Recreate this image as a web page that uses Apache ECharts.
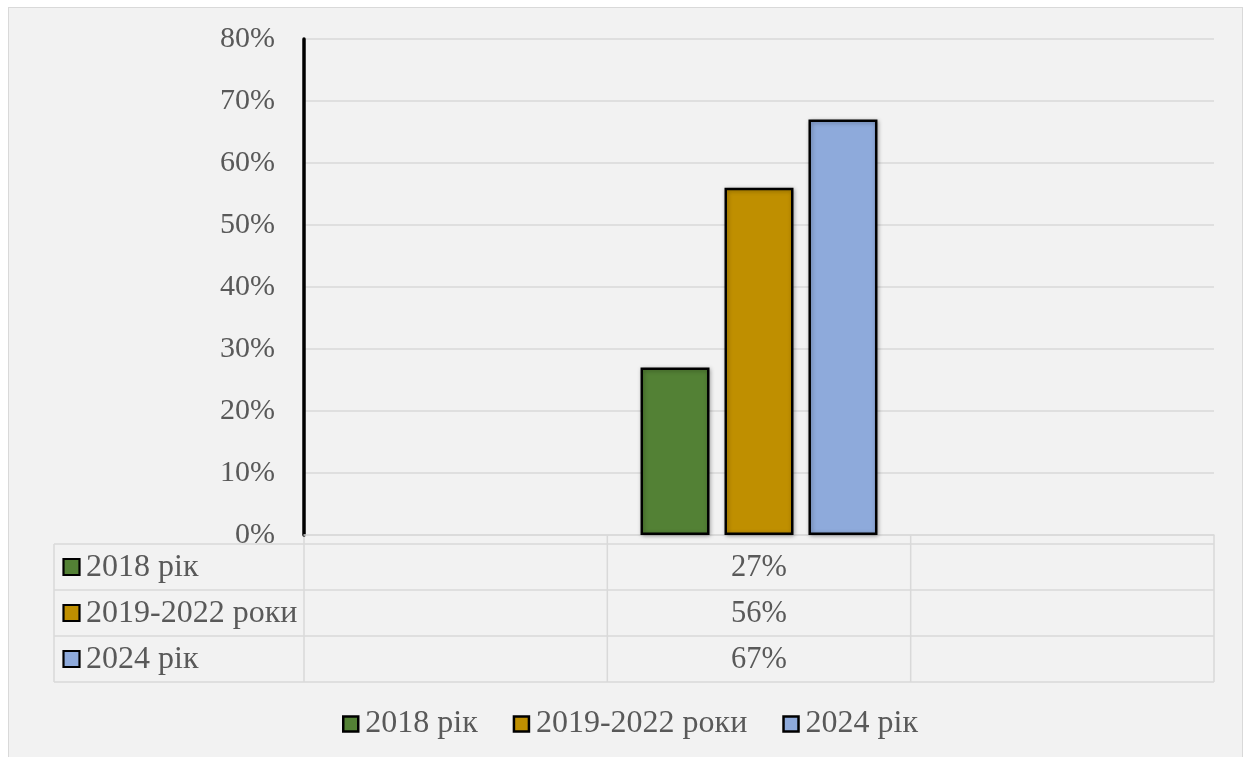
<!DOCTYPE html>
<html>
<head>
<meta charset="utf-8">
<script src="https://cdn.jsdelivr.net/npm/echarts@6/dist/echarts.min.js"></script>
<style>
html,body{margin:0;padding:0;background:#ffffff;}
#bg{position:absolute;left:8px;top:7px;width:1235px;height:760px;background:#f2f2f2;border:1.5px solid #d9d9d9;box-sizing:border-box;}
#chart{position:absolute;left:0;top:0;width:1248px;height:757px;}
</style>
</head>
<body>
<div id="bg"></div>
<div id="chart"></div>
<script>
// ---- data ----
const categories = ['', '', ''];
const seriesNames = ['2018 рік', '2019-2022 роки', '2024 рік'];
const values2018 = [null, 27, null];
const values2019_2022 = [null, 56, null];
const values2024 = [null, 67, null];
const yMin = 0, yMax = 80, yStep = 10;

const seriesValues = [values2018, values2019_2022, values2024];
const colors = ['#538135', '#bf8f00', '#8eaadb'];
const textColor = '#595959';
const lineColor = '#d9d9d9';
const serif = '"Liberation Serif", "DejaVu Serif", serif';

const chart = echarts.init(document.getElementById('chart'), null, {renderer: 'canvas'});

const option = {
  backgroundColor: 'transparent',
  animation: false,
  grid: {left: 304, right: 34, top: 39, bottom: 222},
  legend: {
    data: seriesNames,
    left: 337,
    top: 703,
    itemWidth: 15,
    itemHeight: 15,
    itemGap: 35,
    icon: 'rect',
    itemStyle: {borderColor: '#000000', borderWidth: 2.5},
    textStyle: {color: textColor, fontSize: 32, fontFamily: serif, padding: [0, 0, 0, 2]}
  },
  xAxis: {
    type: 'category',
    data: categories,
    axisLine: {show: true, lineStyle: {color: lineColor, width: 1.5}},
    axisTick: {show: false},
    axisLabel: {show: false},
    splitLine: {show: false}
  },
  yAxis: {
    type: 'value',
    min: yMin, max: yMax, interval: yStep,
    axisLine: {show: true, lineStyle: {color: '#000000', width: 3.5}},
    axisTick: {show: false},
    axisLabel: {color: textColor, fontSize: 30, fontFamily: serif, margin: 29,
      formatter: v => v + '%'},
    splitLine: {show: true, lineStyle: {color: lineColor, width: 1.5}}
  },
  series: seriesNames.map((name, i) => ({
    name: name,
    type: 'bar',
    data: seriesValues[i],
    barWidth: 69,
    barGap: '21.7%',
    itemStyle: {
      color: colors[i],
      borderColor: '#000000',
      borderWidth: 2.5,
      shadowBlur: 4,
      shadowOffsetX: 1,
      shadowOffsetY: 1,
      shadowColor: 'rgba(0,0,0,0.3)'
    }
  }))
};
chart.setOption(option);

// ---- data table below the plot, aligned to the category axis ----
function buildTable() {
  const x0 = chart.convertToPixel({xAxisIndex: 0}, 0);
  const x1 = chart.convertToPixel({xAxisIndex: 0}, 1);
  const band = x1 - x0;
  const plotLeft = x0 - band / 2;
  const plotRight = plotLeft + band * categories.length;
  const yBase = chart.convertToPixel({yAxisIndex: 0}, yMin);
  const headerH = 9;
  const rowH = 46;
  const tableLeft = 54;
  const rowsTop = yBase + headerH;
  const rowsBottom = rowsTop + rowH * seriesNames.length;
  const els = [];
  const ls = {stroke: lineColor, lineWidth: 1.5};
  // vertical lines
  for (let c = 0; c <= categories.length; c++) {
    const x = plotLeft + band * c;
    els.push({type: 'line', shape: {x1: x, y1: yBase, x2: x, y2: rowsBottom}, style: ls, silent: true});
  }
  els.push({type: 'line', shape: {x1: tableLeft, y1: rowsTop, x2: tableLeft, y2: rowsBottom}, style: ls, silent: true});
  // horizontal lines
  for (let r = 0; r <= seriesNames.length; r++) {
    const y = rowsTop + rowH * r;
    els.push({type: 'line', shape: {x1: tableLeft, y1: y, x2: plotRight, y2: y}, style: ls, silent: true});
  }
  // rows
  seriesNames.forEach((name, r) => {
    const cy = rowsTop + rowH * r + rowH / 2;
    els.push({type: 'rect', shape: {x: 63.5, y: cy - 8, width: 16, height: 16},
      style: {fill: colors[r], stroke: '#000000', lineWidth: 2.2}, silent: true});
    els.push({type: 'text', style: {text: name, x: 86, y: cy + 1, fill: textColor, font: '32px ' + serif,
      textAlign: 'left', textVerticalAlign: 'middle', align: 'left', verticalAlign: 'middle'}, silent: true});
    seriesValues[r].forEach((v, c) => {
      if (v === null || v === undefined) return;
      const cx = chart.convertToPixel({xAxisIndex: 0}, c);
      els.push({type: 'text', style: {text: v + '%', x: cx, y: cy + 1, fill: textColor, font: '30.5px ' + serif,
        textAlign: 'center', textVerticalAlign: 'middle', align: 'center', verticalAlign: 'middle'}, silent: true});
    });
  });
  chart.setOption({graphic: {elements: els}});
}
buildTable();
</script>
</body>
</html>
